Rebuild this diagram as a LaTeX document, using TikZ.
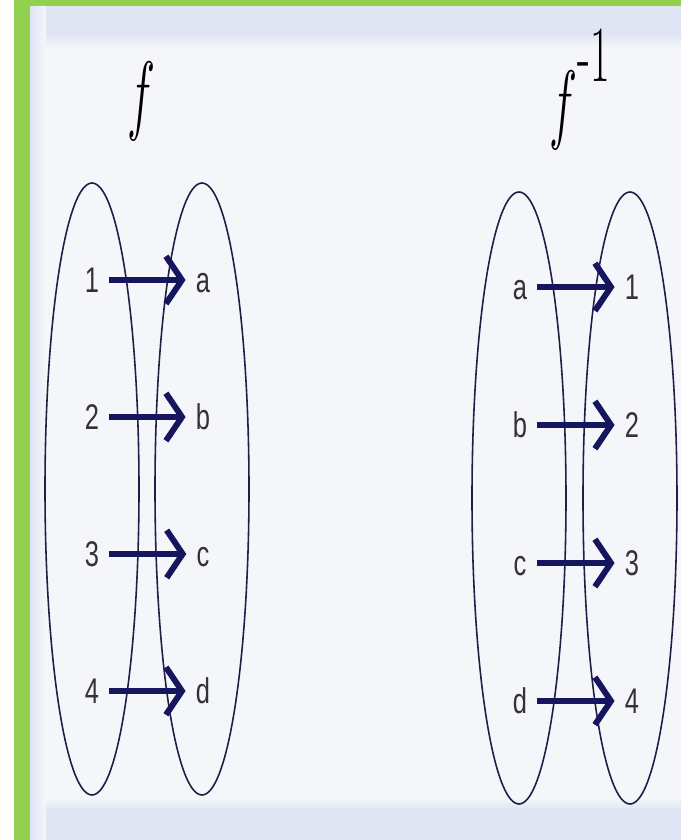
\documentclass[tikz,border=0pt]{standalone}
\usepackage{fix-cm}
\usepackage{fontspec}
\setsansfont{Liberation Sans}
\usetikzlibrary{arrows.meta}

\definecolor{framegreen}{RGB}{146,208,80}
\definecolor{panelbg}{RGB}{245,246,249}
\definecolor{bandblue}{RGB}{224,229,244}
\definecolor{setnavy}{RGB}{30,30,70}
\definecolor{arrownavy}{RGB}{22,22,95}

% the source picture is stretched upright, so is every text here
\newcommand{\tallbox}[1]{\scalebox{1}[1.4]{#1}}
\newcommand{\ttlbox}[1]{\scalebox{0.75}[1.4]{#1}}

\begin{document}
\begin{tikzpicture}[
    x=0.02cm, y=0.02cm,
    elem/.style={font=\sffamily\fontsize{14.5}{17}\selectfont, text=black!80,
        text height=14.6pt, text depth=0pt, inner sep=0.2cm},
    ttl/.style={font=\fontsize{36}{40}\selectfont, inner sep=0pt},
    setline/.style={draw=setnavy, line width=0.9pt},
    maparrow/.style={draw=arrownavy, line width=3.4pt,
        -{Straight Barb[length=0.32cm, width=0.95cm]}},
]
\useasboundingbox (0,0) rectangle (681,840);

% --- Frame and panel ---
\fill[white] (0,0) rectangle (681,840);
\fill[panelbg] (30,0) rectangle (681,834);
\fill[bandblue] (30,834) rectangle (681,806);
\shade[top color=bandblue, bottom color=panelbg] (30,806) rectangle (681,792);
\fill[bandblue] (30,0) rectangle (681,30);
\shade[bottom color=bandblue, top color=panelbg] (30,30) rectangle (681,42);
\shade[left color=bandblue, right color=panelbg] (30,0) rectangle (46,834);
\fill[framegreen] (14,0) rectangle (30,840);
\fill[framegreen] (14,834) rectangle (681,840);

% --- f: {1,2,3,4} -> {a,b,c,d} ---
\node[ttl] (ftitle) at (141,739) {\ttlbox{$f$}};
\draw[setline] (92,351) ellipse [x radius=47, y radius=306];
\draw[setline] (202,351) ellipse [x radius=47, y radius=306];
\foreach \s/\t/\y in {1/a/560, 2/b/423, 3/c/286, 4/d/149} {
    \node[elem] (fdom\s) at (92,\y) {\tallbox{\s}};
    \node[elem] (fcod\t) at (203,\y) {\tallbox{\t}};
    \draw[maparrow] (fdom\s) -- (fcod\t);
}

% --- f^{-1}: {a,b,c,d} -> {1,2,3,4} ---
\node[ttl] (gtitle) at (580,750)
    {\ttlbox{$f^{\raisebox{8pt}{\scalebox{0.9}{$\textstyle\mbox{-}1$}}}$}};
\draw[setline] (519,342) ellipse [x radius=47, y radius=306];
\draw[setline] (630,342) ellipse [x radius=47, y radius=306];
\foreach \s/\t/\y in {a/1/553, b/2/415, c/3/277, d/4/139} {
    \node[elem] (gdom\s) at (520,\y) {\tallbox{\s}};
    \node[elem] (gcod\t) at (632,\y) {\tallbox{\t}};
    \draw[maparrow] (gdom\s) -- (gcod\t);
}

\end{tikzpicture}
\end{document}
